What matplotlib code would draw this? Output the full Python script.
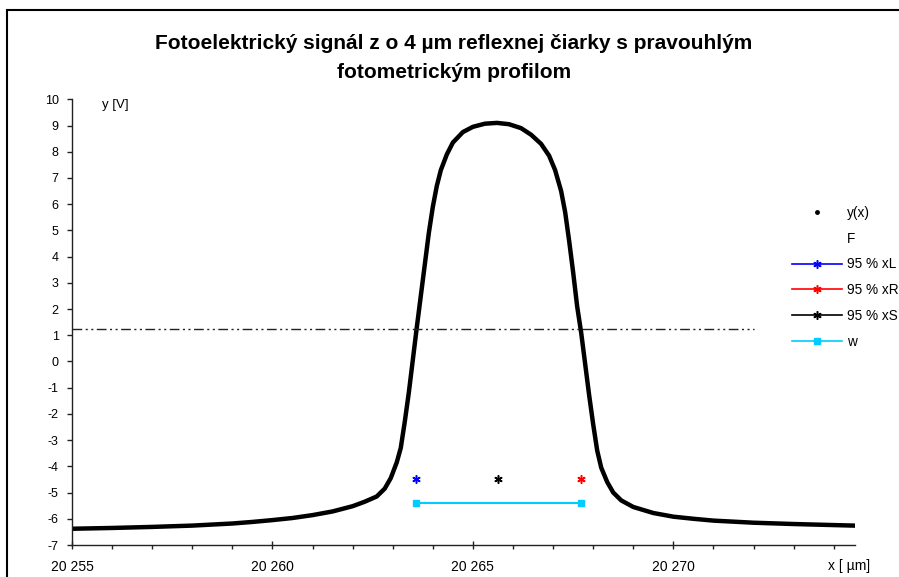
import matplotlib
matplotlib.use('Agg')
import matplotlib.pyplot as plt
from matplotlib.lines import Line2D
from matplotlib.patches import Rectangle
from matplotlib.ticker import FuncFormatter, MultipleLocator

plt.rcParams['font.family'] = ['Liberation Sans', 'DejaVu Sans']

title = "Fotoelektrický signál z o 4 µm reflexnej čiarky s pravouhlým\nfotometrickým profilom"

x_signal = [20255.0, 20256.0, 20257.0, 20258.0, 20259.0, 20259.5, 20260.0, 20260.5,
            20261.0, 20261.5, 20262.0, 20262.3, 20262.6, 20262.8, 20262.95, 20263.1,
            20263.2, 20263.3, 20263.4, 20263.5, 20263.6, 20263.7, 20263.8, 20263.9,
            20264.0, 20264.1, 20264.2, 20264.35, 20264.5, 20264.75, 20265.0, 20265.3,
            20265.6, 20265.9, 20266.2, 20266.45, 20266.7, 20266.9, 20267.05, 20267.2,
            20267.3, 20267.4, 20267.5, 20267.6, 20267.7, 20267.8, 20267.9, 20268.0,
            20268.1, 20268.2, 20268.35, 20268.5, 20268.7, 20269.0, 20269.5, 20270.0,
            20270.5, 20271.0, 20272.0, 20273.0, 20274.0, 20274.5]
y_signal = [-6.38, -6.35, -6.31, -6.26, -6.18, -6.12, -6.05, -5.97,
            -5.86, -5.72, -5.52, -5.35, -5.15, -4.85, -4.45, -3.85,
            -3.3, -2.3, -1.2, 0.05, 1.3, 2.5, 3.7, 4.9,
            5.9, 6.7, 7.3, 7.9, 8.35, 8.75, 8.95, 9.07,
            9.1, 9.05, 8.9, 8.65, 8.3, 7.85, 7.3, 6.5,
            5.7, 4.6, 3.4, 2.1, 1.1, -0.1, -1.3, -2.4,
            -3.4, -4.05, -4.6, -5.0, -5.3, -5.55, -5.78, -5.92,
            -6.0, -6.07, -6.15, -6.2, -6.24, -6.26]

f_x = [20255.0, 20272.0]
f_y = [1.23, 1.23]

xL_x, xL_y = [20263.59], [-4.5]
xR_x, xR_y = [20267.70], [-4.5]
xS_x, xS_y = [20265.63], [-4.5]
w_x = [20263.59, 20267.70]
w_y = [-5.4, -5.4]

xticks_major = [20255, 20260, 20265, 20270]

fig = plt.figure(figsize=(8.99, 5.77), dpi=100)
W, H = 899, 577
ax = fig.add_axes([72 / W, (H - 545) / H, (855 - 72) / W, (545 - 99.3) / H])

ax.plot(x_signal, y_signal, color='black', lw=3.2, solid_joinstyle='round')
ax.plot(f_x, f_y, color='#222222', lw=1.0, ls=(0, (7, 2.5, 1.5, 2.5, 1.5, 2.5)))
star = (6, 2, 0)
ax.plot(xL_x, xL_y, ls='none', marker=star, ms=6, mew=1.1, color='#0000FF')
ax.plot(xR_x, xR_y, ls='none', marker=star, ms=6, mew=1.1, color='#FF0000')
ax.plot(xS_x, xS_y, ls='none', marker=star, ms=6, mew=1.1, color='black')
ax.plot(w_x, w_y, color='#00CCFF', lw=1.5, marker='s', ms=5)

ax.set_xlim(20255, 20274.53)
ax.set_ylim(-7, 10)
ax.set_xticks(xticks_major)
ax.xaxis.set_minor_locator(MultipleLocator(1))
ax.yaxis.set_major_locator(MultipleLocator(1))
ax.xaxis.set_major_formatter(FuncFormatter(lambda v, p: f"{int(round(v)):,}".replace(',', ' ')))
ax.yaxis.set_major_formatter(FuncFormatter(lambda v, p: f"{int(round(v))}"))

for s in ['top', 'right']:
    ax.spines[s].set_visible(False)
for s in ['left', 'bottom']:
    ax.spines[s].set_color('#222222')
    ax.spines[s].set_linewidth(1.0)

ax.tick_params(axis='x', which='major', direction='inout', length=6, width=1, pad=8, labelsize=10, colors='#222222')
ax.tick_params(axis='x', which='minor', direction='out', length=3, width=1, colors='#222222')
ax.tick_params(axis='y', which='major', direction='out', length=3.5, width=1, pad=6, labelsize=9, colors='#222222')
for lbl in ax.get_xticklabels() + ax.get_yticklabels():
    lbl.set_color('black')

ax.text(115 / W, 1 - 105 / H, 'y [V]', transform=fig.transFigure, ha='center', va='center', fontsize=9.5)
fig.text(849 / W, 1 - 566 / H, 'x [ µm]', ha='center', va='center', fontsize=10)

fig.text(454 / W, 1 - 58 / H, title, ha='center', va='center', fontsize=15,
         fontweight='bold', linespacing=1.68)

handles = [
    Line2D([], [], ls='none', marker='.', ms=5, color='black'),
    Line2D([], [], ls='none', marker=None, color='none'),
    Line2D([], [], color='#0000FF', lw=1.2, marker=star, ms=6, mew=1.1),
    Line2D([], [], color='#FF0000', lw=1.2, marker=star, ms=6, mew=1.1),
    Line2D([], [], color='black', lw=1.2, marker=star, ms=6, mew=1.1),
    Line2D([], [], color='#00CCFF', lw=1.2, marker='s', ms=5),
]
labels = ['y(x)', 'F', '95 % xL', '95 % xR', '95 % xS', 'w']
fig.legend(handles, labels, loc='upper left', bbox_to_anchor=(792 / W, 1 - 206 / H),
           bbox_transform=fig.transFigure, frameon=False, fontsize=9.8, handlelength=3.7,
           handletextpad=0.35, labelspacing=0.86, borderpad=0, borderaxespad=0)

fig.add_artist(Rectangle((7 / W, -0.2), 1.5, 1.2 - 10 / H, transform=fig.transFigure,
                         fill=False, lw=1.5, edgecolor='black', clip_on=False))

fig.savefig('out.png', dpi=100)
